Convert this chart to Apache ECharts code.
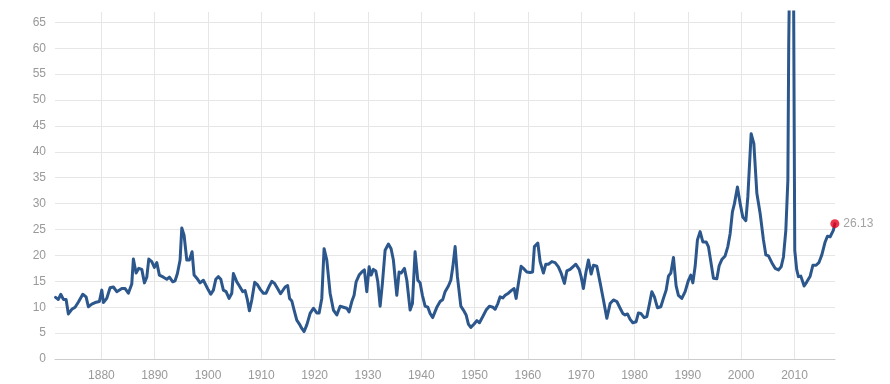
<!DOCTYPE html>
<html>
<head>
<meta charset="utf-8">
<script src="https://cdn.jsdelivr.net/npm/echarts@6/dist/echarts.min.js"></script>
<style>
html,body{margin:0;padding:0;background:#fff;}
#c{width:890px;height:384px;}
</style>
</head>
<body>
<div id="c"></div>
<script>
const years = [1871.41,1871.93,1872.38,1872.87,1873.38,1873.81,1874.45,1875.07,1875.69,1876.51,
1877.13,1877.56,1878.20,1878.82,1879.62,1880.08,1880.38,1881.01,1881.63,1882.25,
1882.89,1883.83,1884.45,1885.06,1885.70,1886.00,1886.51,1887.02,1887.58,1888.07,
1888.52,1888.89,1889.45,1889.94,1890.39,1890.88,1891.63,1892.27,1892.76,1893.39,
1893.82,1894.26,1894.76,1895.08,1895.51,1896.02,1896.51,1897.01,1897.39,1897.90,
1898.51,1899.13,1899.45,1900.07,1900.52,1901.01,1901.46,1901.95,1902.40,1902.88,
1903.39,1903.95,1904.46,1904.76,1905.40,1905.89,1906.52,1906.96,1907.39,1907.76,
1908.21,1908.76,1909.30,1909.83,1910.39,1910.89,1911.51,1911.96,1912.49,1913.05,
1913.61,1913.90,1914.46,1914.93,1915.30,1915.72,1916.15,1916.65,1917.14,1917.59,
1918.02,1918.53,1919.15,1919.77,1920.40,1920.84,1921.34,1921.77,1922.28,1922.90,
1923.52,1924.16,1924.78,1925.39,1926.03,1926.46,1926.97,1927.40,1927.78,1928.34,
1928.85,1929.33,1929.78,1930.22,1930.59,1931.02,1931.47,1931.85,1932.28,1932.71,
1933.22,1933.84,1934.34,1934.77,1935.41,1935.84,1936.22,1936.84,1937.29,1937.91,
1938.34,1938.84,1939.35,1939.78,1940.21,1940.72,1941.23,1941.66,1942.13,1942.50,
1942.97,1943.53,1944.04,1944.47,1945.09,1945.54,1945.92,1946.35,1946.78,1947.42,
1947.90,1948.41,1948.84,1949.29,1949.91,1950.42,1950.91,1951.54,1952.16,1952.78,
1953.42,1953.85,1954.36,1954.79,1955.29,1955.73,1956.34,1956.98,1957.41,1957.79,
1958.22,1958.73,1959.16,1959.80,1960.42,1960.88,1961.22,1961.86,1962.29,1962.91,
1963.36,1963.85,1964.49,1965.10,1965.72,1966.23,1966.85,1967.30,1967.92,1968.54,
1968.99,1969.61,1969.98,1970.41,1970.86,1971.35,1971.86,1972.29,1972.93,1973.55,
1974.17,1974.80,1975.42,1976.04,1976.68,1977.30,1977.80,1978.24,1978.67,1979.17,
1979.68,1980.30,1980.73,1981.18,1981.80,1982.31,1982.79,1983.24,1983.73,1984.29,
1984.93,1985.42,1985.93,1986.36,1986.81,1987.30,1987.80,1988.23,1988.87,1989.49,
1990.11,1990.56,1990.94,1991.37,1991.80,1992.30,1992.81,1993.43,1993.86,1994.31,
1994.80,1995.44,1995.87,1996.37,1996.99,1997.50,1997.93,1998.36,1998.74,1999.30,
1999.81,2000.31,2000.88,2001.25,2001.87,2002.38,2002.94,2003.56,2004.18,2004.63,
2005.12,2005.75,2006.37,2006.99,2007.50,2007.93,2008.38,2008.76,2008.92,2009.04,
2009.37,2009.52,2009.75,2010.05,2010.41,2010.74,2011.19,2011.81,2012.32,2012.94,
2013.45,2014.06,2014.57,2015.13,2015.75,2016.18,2016.69,2017.01,2017.31,2017.57];

const peRatio = [11.9,11.5,12.5,11.5,11.5,8.7,9.6,10.0,11.0,12.5,
12.0,10.1,10.6,10.9,11.1,13.3,10.9,11.7,13.75,13.9,
13.0,13.6,13.6,12.7,14.5,19.3,16.6,17.5,17.3,14.7,
15.8,19.3,18.8,17.7,18.6,16.2,15.8,15.4,15.8,14.9,
15.1,16.5,19.1,25.3,23.9,19.1,19.1,20.7,16.2,15.6,
14.7,15.2,15.4,13.3,12.5,13.3,15.4,15.9,15.4,13.3,
13.0,11.7,12.7,16.5,14.9,14.1,13.0,13.2,11.4,9.3,
11.4,14.8,14.3,13.4,12.7,12.7,14.1,15.0,14.6,13.6,
12.6,12.4,13.9,14.2,11.7,11.2,9.45,7.5,6.75,5.9,
5.3,6.6,8.8,9.8,8.9,8.9,11.7,21.3,19.1,12.7,
9.45,8.5,10.2,10.0,9.8,9.1,11.1,12.3,14.9,16.2,
16.8,17.2,13.0,17.8,16.2,17.3,17.0,14.9,10.2,14.6,
21.0,22.2,21.3,19.1,12.3,16.8,16.6,17.5,15.2,9.45,
10.7,20.7,15.2,14.7,12.3,10.2,10.0,8.8,8.0,8.0,
10.1,11.1,11.5,13.0,14.1,15.2,17.8,21.7,15.9,10.2,
9.45,8.5,6.75,6.1,6.75,7.4,7.0,8.2,9.45,10.2,
10.0,9.6,10.7,12.0,11.8,12.3,12.7,13.3,13.6,11.7,
14.6,17.9,17.5,16.8,16.7,16.8,21.7,22.4,18.8,16.6,
18.3,18.3,18.8,18.6,17.8,16.6,14.6,17.0,17.3,17.9,
18.3,17.3,15.9,13.6,16.6,19.1,16.4,18.1,17.9,14.7,
11.4,7.85,10.7,11.4,11.1,9.8,8.8,8.5,8.7,7.65,
7.0,7.2,8.9,8.8,8.0,8.2,10.6,13.0,12.0,9.9,
10.1,11.7,13.3,16.0,16.6,19.6,14.1,12.3,11.7,13.0,
15.2,16.2,14.7,17.9,23.0,24.6,22.6,22.6,21.7,18.8,
15.6,15.5,18.0,19.2,19.9,21.7,24.2,28.4,30.0,33.2,
30.0,27.4,26.7,31.3,43.5,41.6,32.0,28.1,23.0,20.1,
19.9,18.6,17.5,17.2,17.8,19.7,24.9,34.5,60.7,70.9,
123.7,122.0,90.0,21.0,17.3,15.9,16.0,14.1,14.9,16.0,
18.1,18.1,18.6,20.1,22.6,23.7,23.6,23.3,24.9,26.13];

const xTickYears = [1880,1890,1900,1910,1920,1930,1940,1950,1960,1970,1980,1990,2000,2010];
const xMin = 1871.3, xMax = 2017.6;
const yMin = 0, yMax = 67, yStep = 5;

const lineData = years.map((y, i) => [y, peRatio[i]]);
const lastPoint = [years[years.length - 1], peRatio[peRatio.length - 1]];

const chart = echarts.init(document.getElementById('c'), null, {renderer: 'canvas'});
chart.setOption({
  animation: false,
  backgroundColor: '#ffffff',
  grid: {left: 55, right: 55, top: 12, bottom: 25, containLabel: false},
  xAxis: {
    type: 'value',
    min: xMin,
    max: xMax,
    axisLine: {show: true, lineStyle: {color: '#cccccc', width: 1}},
    axisTick: {show: false, customValues: xTickYears},
    axisLabel: {
      customValues: xTickYears,
      formatter: v => String(Math.round(v)),
      color: '#999999', fontSize: 12, fontFamily: 'Liberation Sans, Arial, sans-serif',
      margin: 11
    },
    splitLine: {show: true, lineStyle: {color: '#e6e6e6', width: 1}}
  },
  yAxis: {
    type: 'value',
    min: yMin,
    max: yMax,
    interval: yStep,
    axisLine: {show: false},
    axisTick: {show: false},
    axisLabel: {
      showMaxLabel: false,
      color: '#999999', fontSize: 12, fontFamily: 'Liberation Sans, Arial, sans-serif',
      margin: 9
    },
    splitLine: {show: true, showMaxLine: false, lineStyle: {color: '#e6e6e6', width: 1}}
  },
  series: [
    {
      type: 'line',
      data: lineData,
      showSymbol: false,
      symbol: 'none',
      clip: true,
      lineStyle: {color: '#2c578c', width: 3, join: 'round', cap: 'round'},
      z: 2
    },
    {
      type: 'scatter',
      data: [lastPoint],
      symbol: 'circle',
      symbolSize: 9,
      clip: false,
      itemStyle: {color: '#e8001c'},
      label: {
        show: true,
        position: 'right',
        distance: 4,
        formatter: p => p.value[1].toFixed(2),
        color: '#8c8c8c', fontSize: 12, fontFamily: 'Liberation Sans, Arial, sans-serif'
      },
      z: 3
    }
  ]
});
</script>
</body>
</html>
